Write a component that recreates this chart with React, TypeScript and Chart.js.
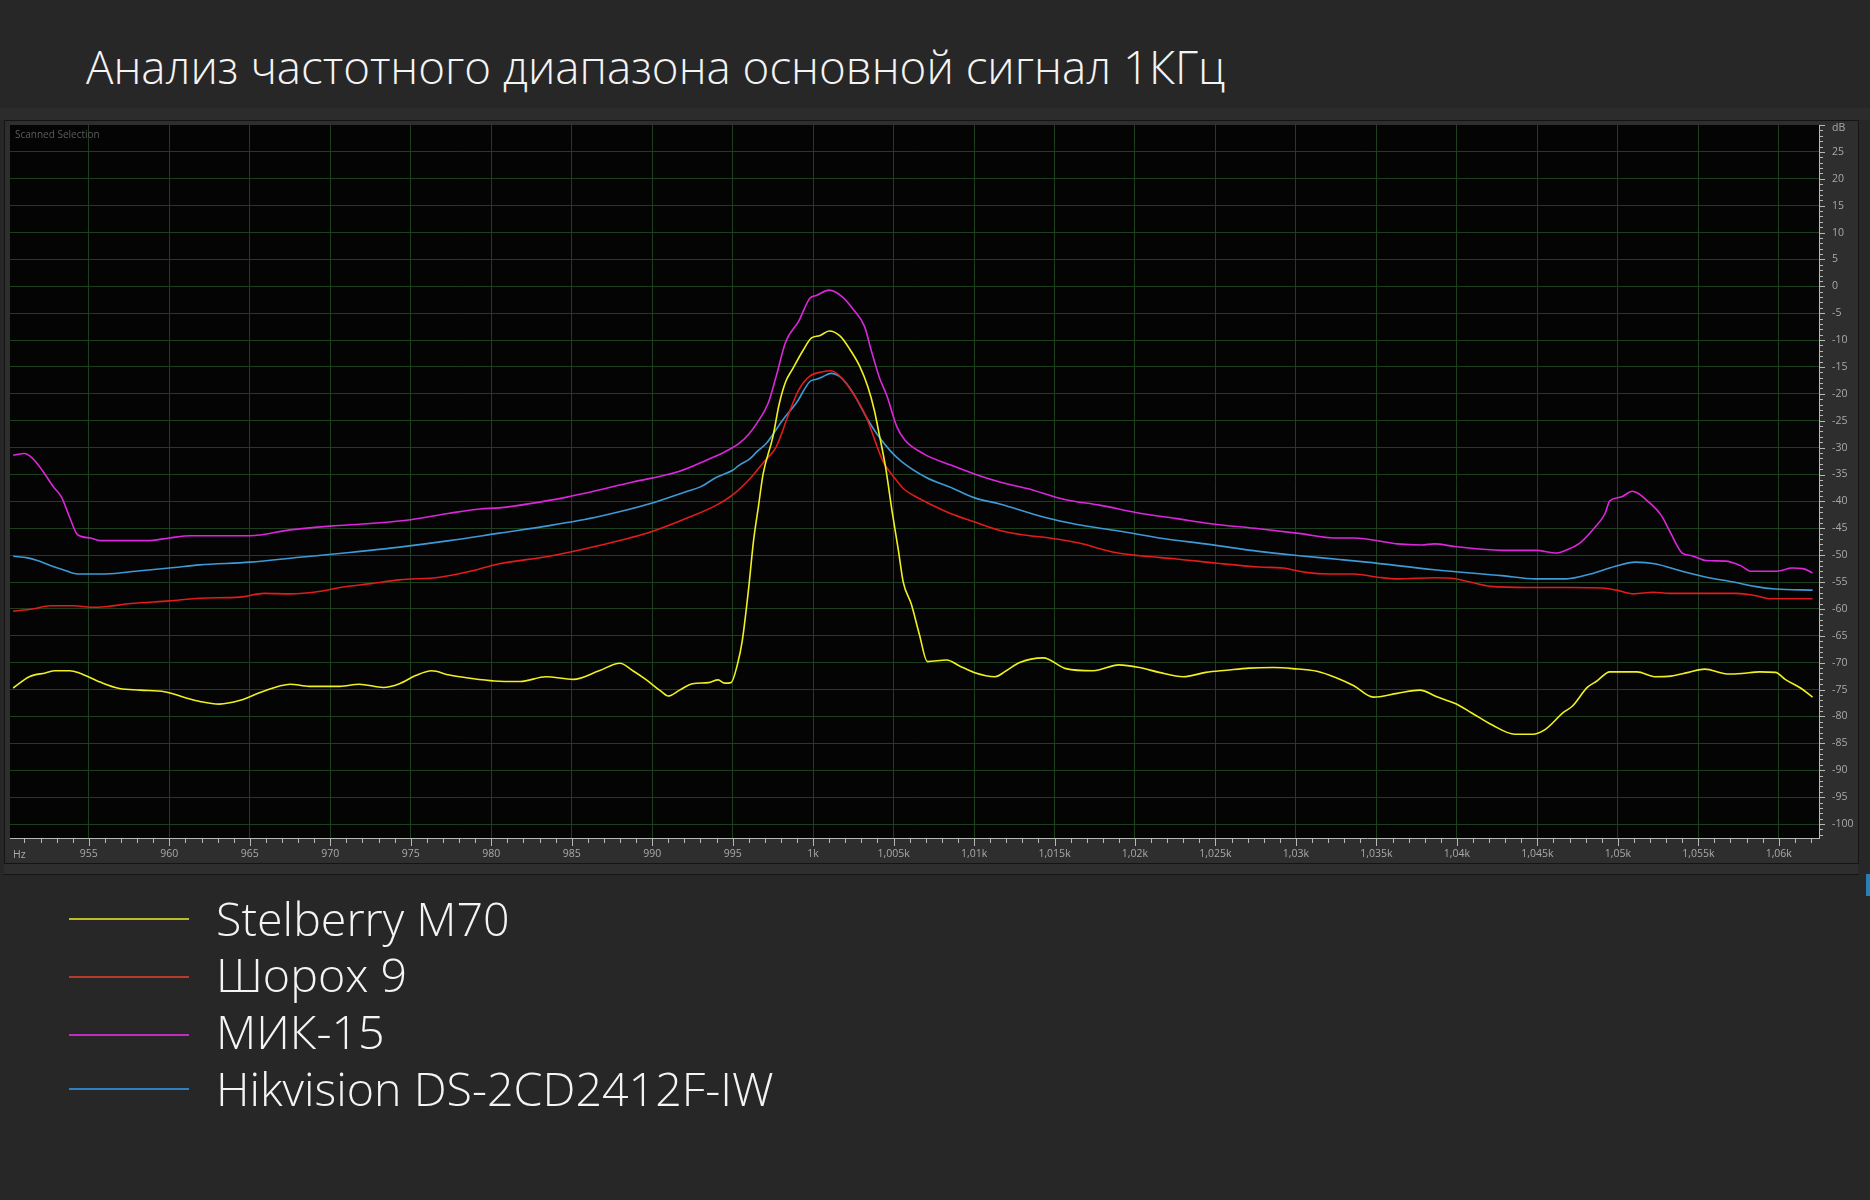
import React, { useEffect, useRef } from 'react';
import { Chart, registerables } from 'chart.js';

Chart.register(...registerables);

// ---------- data ----------
const titleText = 'Анализ частотного диапазона основной сигнал 1КГц';

const seriesNames = ['Stelberry M70', 'Шорох 9', 'МИК-15', 'Hikvision DS-2CD2412F-IW'];
const seriesColors = ['#f0f020', '#e01c1c', '#dc26dc', '#3e9ad6'];
const legendColors = ['#bcbc2a', '#b83a2a', '#c22cc2', '#2f80c4'];

const stelberryHz = [950.3, 951.3, 952.3, 952.9, 953.8, 954.4, 955.7, 956.9, 958.2, 959.7, 961.0, 961.9, 963.1, 964.4, 965.6, 966.9, 967.5, 968.7, 970.6, 971.8, 973.3, 974.3, 975.3, 976.3, 977.4, 978.7, 980.2, 981.8, 983.4, 985.1, 986.7, 988.0, 988.8, 989.6, 990.5, 991.0, 991.7, 992.5, 993.5, 994.1, 994.5, 994.9, 995.3, 995.6, 996.0, 996.3, 996.6, 996.9, 997.5, 997.9, 998.3, 998.7, 999.4, 999.9, 1000.4, 1001.0, 1001.7, 1002.3, 1002.9, 1003.4, 1003.8, 1004.1, 1004.5, 1004.9, 1005.3, 1005.6, 1006.1, 1006.6, 1007.1, 1008.3, 1009.1, 1010.0, 1011.3, 1012.0, 1012.8, 1014.3, 1015.7, 1017.4, 1019.0, 1020.3, 1021.5, 1023.0, 1024.4, 1025.7, 1027.1, 1028.6, 1029.8, 1031.3, 1032.5, 1033.6, 1034.8, 1036.3, 1037.7, 1038.8, 1039.9, 1040.9, 1042.2, 1043.6, 1044.7, 1045.5, 1046.6, 1047.2, 1048.1, 1048.7, 1049.5, 1051.2, 1052.3, 1053.3, 1054.4, 1055.4, 1056.8, 1057.7, 1058.8, 1059.8, 1060.4, 1061.4, 1062.1];
const stelberryDb = [-74.7, -72.6, -71.9, -71.5, -71.5, -71.9, -73.6, -74.8, -75.1, -75.4, -76.5, -77.2, -77.7, -77.0, -75.6, -74.3, -74.0, -74.4, -74.4, -74.0, -74.6, -73.9, -72.4, -71.5, -72.3, -72.9, -73.4, -73.5, -72.6, -73.1, -71.5, -70.1, -71.5, -73.1, -75.2, -76.2, -75.1, -73.9, -73.7, -73.2, -73.8, -73.7, -70.3, -65.9, -56.0, -47.3, -41.0, -34.8, -28.0, -21.8, -17.7, -15.5, -11.8, -9.6, -9.2, -8.3, -9.3, -11.8, -14.9, -18.7, -23.0, -27.4, -33.6, -41.7, -49.1, -55.0, -59.1, -64.7, -69.8, -69.5, -70.6, -71.8, -72.6, -71.5, -70.0, -69.1, -71.1, -71.5, -70.4, -70.9, -71.8, -72.6, -71.8, -71.4, -71.0, -70.9, -71.1, -71.6, -72.8, -74.3, -76.4, -75.7, -75.1, -76.4, -77.6, -79.3, -81.6, -83.3, -83.3, -82.4, -79.3, -78.0, -74.6, -73.4, -71.7, -71.7, -72.6, -72.5, -71.8, -71.2, -72.1, -72.0, -71.7, -71.8, -73.1, -74.8, -76.4];

const shorohHz = [950.3, 951.5, 952.6, 954.1, 955.1, 956.0, 957.6, 960.0, 961.9, 964.4, 965.9, 967.5, 969.4, 970.6, 972.5, 974.3, 976.8, 978.7, 980.5, 983.6, 986.7, 989.9, 992.1, 994.0, 995.0, 996.1, 996.9, 997.7, 998.5, 999.1, 999.8, 1000.6, 1001.1, 1001.8, 1002.6, 1003.3, 1004.0, 1004.4, 1005.0, 1005.6, 1006.3, 1007.0, 1008.5, 1010.0, 1011.6, 1012.8, 1014.9, 1016.6, 1018.6, 1020.3, 1022.6, 1025.1, 1027.7, 1029.2, 1030.6, 1032.1, 1033.6, 1035.1, 1036.3, 1038.6, 1039.9, 1040.8, 1042.1, 1044.4, 1047.0, 1049.1, 1049.9, 1051.0, 1052.2, 1053.2, 1055.3, 1057.4, 1058.5, 1059.5, 1062.1];
const shorohDb = [-60.4, -60.0, -59.4, -59.4, -59.7, -59.6, -59.0, -58.5, -58.0, -57.8, -57.1, -57.2, -56.7, -56.0, -55.3, -54.6, -54.1, -53.0, -51.6, -50.2, -48.2, -45.7, -43.2, -40.7, -38.8, -35.7, -32.8, -29.9, -23.6, -19.3, -16.7, -15.9, -15.7, -17.1, -20.5, -24.3, -30.0, -32.9, -35.4, -37.6, -39.0, -40.1, -42.2, -43.8, -45.4, -46.1, -46.9, -47.8, -49.4, -50.1, -50.7, -51.5, -52.2, -52.4, -53.2, -53.5, -53.5, -54.1, -54.4, -54.2, -54.4, -55.0, -55.8, -56.0, -56.0, -56.1, -56.5, -57.2, -56.9, -57.1, -57.1, -57.1, -57.5, -58.1, -58.1];

const mik15Hz = [950.3, 951.0, 951.5, 952.1, 952.8, 953.3, 953.8, 954.3, 955.1, 955.7, 958.6, 960.0, 961.3, 965.0, 967.5, 970.0, 972.5, 975.0, 977.4, 979.3, 980.5, 984.7, 988.8, 991.6, 993.4, 994.5, 995.4, 996.0, 996.5, 997.2, 997.7, 998.3, 999.1, 999.8, 1000.2, 1001.0, 1001.8, 1002.5, 1003.2, 1003.6, 1004.1, 1004.6, 1005.2, 1005.7, 1006.9, 1008.6, 1010.2, 1011.6, 1013.3, 1015.7, 1017.8, 1020.3, 1022.6, 1024.6, 1027.7, 1030.3, 1032.4, 1033.6, 1036.3, 1037.8, 1038.6, 1039.9, 1042.8, 1044.9, 1046.2, 1047.0, 1047.7, 1048.5, 1049.2, 1049.5, 1050.2, 1050.9, 1051.2, 1051.8, 1052.7, 1053.2, 1054.0, 1054.6, 1055.5, 1056.7, 1057.6, 1058.3, 1059.5, 1060.1, 1060.8, 1061.5, 1062.1];
const mik15Db = [-31.4, -31.1, -32.0, -34.2, -37.3, -39.2, -42.9, -46.2, -46.8, -47.3, -47.3, -46.8, -46.4, -46.4, -45.3, -44.6, -44.1, -43.4, -42.2, -41.4, -41.2, -39.2, -36.4, -34.5, -32.3, -30.8, -29.2, -27.5, -25.5, -21.8, -16.8, -10.3, -6.5, -2.2, -1.7, -0.7, -1.9, -4.3, -7.5, -11.8, -16.8, -20.5, -26.1, -28.6, -31.2, -33.3, -35.1, -36.4, -37.6, -39.7, -40.7, -42.2, -43.2, -44.1, -45.1, -46.0, -46.8, -46.8, -47.9, -48.1, -47.9, -48.4, -49.1, -49.1, -49.6, -48.8, -47.6, -45.1, -42.3, -39.9, -39.2, -38.1, -38.4, -39.8, -42.6, -45.4, -49.6, -50.1, -51.0, -51.1, -51.9, -53.0, -53.0, -52.9, -52.4, -52.5, -53.3];

const hikvisionHz = [950.3, 951.2, 951.8, 952.6, 953.4, 954.3, 956.0, 958.2, 960.0, 961.9, 965.0, 968.1, 971.2, 974.3, 977.4, 980.5, 983.6, 986.7, 989.9, 992.1, 993.0, 994.0, 995.0, 995.4, 996.1, 996.5, 997.1, 998.1, 999.0, 999.8, 1000.2, 1000.6, 1001.1, 1001.7, 1002.5, 1003.3, 1004.0, 1004.8, 1005.5, 1007.0, 1008.7, 1010.0, 1011.6, 1014.3, 1016.4, 1019.0, 1021.5, 1024.6, 1027.7, 1030.2, 1032.7, 1034.4, 1038.6, 1042.8, 1044.9, 1046.8, 1048.3, 1049.8, 1051.1, 1052.3, 1054.0, 1055.5, 1057.2, 1058.5, 1059.8, 1062.1];
const hikvisionDb = [-50.2, -50.5, -51.0, -51.9, -52.7, -53.5, -53.5, -52.9, -52.4, -51.8, -51.3, -50.4, -49.5, -48.5, -47.3, -45.9, -44.5, -42.8, -40.4, -38.2, -37.3, -35.5, -34.2, -33.3, -32.0, -30.8, -29.2, -24.9, -21.5, -17.7, -17.3, -16.8, -16.2, -16.9, -19.9, -24.3, -27.6, -30.6, -32.6, -35.5, -37.6, -39.3, -40.5, -42.9, -44.3, -45.5, -46.8, -48.0, -49.3, -50.1, -50.8, -51.3, -52.7, -53.8, -54.4, -54.4, -53.5, -52.1, -51.3, -51.6, -53.0, -54.1, -55.0, -55.8, -56.3, -56.5];

const hzTickValues = [955, 960, 965, 970, 975, 980, 985, 990, 995, 1000, 1005, 1010, 1015, 1020, 1025, 1030, 1035, 1040, 1045, 1050, 1055, 1060];
const hzTickLabels = ['955', '960', '965', '970', '975', '980', '985', '990', '995', '1k', '1,005k', '1,01k', '1,015k', '1,02k', '1,025k', '1,03k', '1,035k', '1,04k', '1,045k', '1,05k', '1,055k', '1,06k'];
const dbTickValues = [25, 20, 15, 10, 5, 0, -5, -10, -15, -20, -25, -30, -35, -40, -45, -50, -55, -60, -65, -70, -75, -80, -85, -90, -95, -100];

const X_MIN = 950.1;
const X_MAX = 1062.5;
const Y_MIN = -102.6;
const Y_MAX = 30;

// ---------- layout ----------
const CANVAS_TOP = 100;
const CANVAS_W = 1870;
const CANVAS_H = 790;
const UI_FONT = '"Open Sans", "Noto Sans", sans-serif';
const TICK_COLOR = '#a9a9a9';
const GRID_COLOR = '#1d3f1d';

const allHz = [stelberryHz, shorohHz, mik15Hz, hikvisionHz];
const allDb = [stelberryDb, shorohDb, mik15Db, hikvisionDb];

const decorPlugin = {
  id: 'decor',
  beforeDraw(chart: any) {
    const { ctx, width, height, chartArea: ca } = chart;
    const o = CANVAS_TOP;
    ctx.save();
    ctx.fillStyle = '#272727';
    ctx.fillRect(0, 0, width, height);
    ctx.fillStyle = '#2c2c2c';
    ctx.fillRect(0, 108 - o, width, 12);
    // panel
    ctx.fillStyle = '#2e2e2e';
    ctx.fillRect(4, 120 - o, 1855, 743);
    ctx.strokeStyle = '#141414';
    ctx.lineWidth = 1;
    ctx.strokeRect(4.5, 120.5 - o, 1854, 743);
    // strip under panel
    ctx.fillStyle = '#2e2e2e';
    ctx.fillRect(4, 864 - o, 1854, 10);
    ctx.fillStyle = '#141414';
    ctx.fillRect(3, 874 - o, 1856, 1);
    // plot background
    ctx.fillStyle = '#040404';
    ctx.fillRect(ca.left, ca.top, ca.right - ca.left, ca.bottom - ca.top);
    ctx.restore();
  },
  afterDraw(chart: any) {
    const { ctx, chartArea: ca } = chart;
    const xs = chart.scales.x;
    const ys = chart.scales.y;
    const o = CANVAS_TOP;
    ctx.save();
    ctx.strokeStyle = '#b8b8b8';
    ctx.lineWidth = 1;
    ctx.beginPath();
    for (let v = Math.ceil(X_MIN); v <= Math.floor(X_MAX); v++) {
      const px = Math.round(xs.getPixelForValue(v)) + 0.5;
      const len = v % 5 === 0 ? 8 : 5;
      ctx.moveTo(px, ca.bottom);
      ctx.lineTo(px, ca.bottom + len);
    }
    for (let v = Math.ceil(Y_MIN); v <= Math.floor(Y_MAX); v++) {
      const py = Math.round(ys.getPixelForValue(v)) + 0.5;
      const len = v % 5 === 0 ? 6 : 4;
      ctx.moveTo(ca.right, py);
      ctx.lineTo(ca.right + len, py);
    }
    ctx.stroke();
    ctx.fillStyle = TICK_COLOR;
    ctx.font = `10.5px ${UI_FONT}`;
    ctx.textBaseline = 'middle';
    ctx.textAlign = 'left';
    ctx.fillText('Hz', 13, 855 - o);
    ctx.fillText('dB', ca.right + 13, 128 - o);
    ctx.fillStyle = '#5c5c5c';
    ctx.font = `10px ${UI_FONT}`;
    ctx.fillText('Scanned Selection', 15, 135 - o);
    ctx.restore();
  },
};

function SpectrumChart() {
  const ref = useRef<HTMLCanvasElement | null>(null);
  useEffect(() => {
    if (!ref.current) return;
    const datasets = seriesNames.map((name, i) => ({
      label: name,
      data: allHz[i].map((hz, k) => ({ x: hz, y: allDb[i][k] })),
      borderColor: seriesColors[i],
      backgroundColor: seriesColors[i],
      borderWidth: 1.6,
      pointRadius: 0,
      tension: 0.3,
      cubicInterpolationMode: 'monotone' as const,
      fill: false,
    }));
    const chart = new Chart(ref.current, {
      type: 'line',
      data: { datasets },
      options: {
        animation: false,
        responsive: false,
        events: [],
        layout: { padding: { left: 10, top: 25, right: 11, bottom: 27 } },
        plugins: { legend: { display: false }, tooltip: { enabled: false }, title: { display: false } },
        scales: {
          x: {
            type: 'linear',
            position: 'bottom',
            min: X_MIN,
            max: X_MAX,
            afterBuildTicks: (s: any) => {
              s.ticks = hzTickValues.map((v) => ({ value: v }));
            },
            afterFit: (s: any) => {
              s.height = 25;
            },
            grid: { color: GRID_COLOR, lineWidth: 1, drawTicks: false },
            border: { display: true, color: '#b8b8b8', width: 1 },
            ticks: {
              autoSkip: false,
              maxRotation: 0,
              padding: 10,
              color: TICK_COLOR,
              font: { size: 10.5, family: UI_FONT },
              callback: (v: any) => {
                const idx = hzTickValues.indexOf(Number(v));
                return idx >= 0 ? hzTickLabels[idx] : '';
              },
            },
          },
          y: {
            type: 'linear',
            position: 'right',
            min: Y_MIN,
            max: Y_MAX,
            afterBuildTicks: (s: any) => {
              s.ticks = dbTickValues.map((v) => ({ value: v }));
            },
            afterFit: (s: any) => {
              s.width = 40;
            },
            grid: { color: GRID_COLOR, lineWidth: 1, drawTicks: false },
            border: { display: true, color: '#b8b8b8', width: 1 },
            ticks: {
              autoSkip: false,
              padding: 13,
              color: TICK_COLOR,
              font: { size: 10.5, family: UI_FONT },
              callback: (v: any) => String(v),
            },
          },
        },
      },
      plugins: [decorPlugin],
    });
    return () => chart.destroy();
  }, []);
  return (
    <canvas
      ref={ref}
      width={CANVAS_W}
      height={CANVAS_H}
      style={{ position: 'absolute', left: 0, top: CANVAS_TOP, width: CANVAS_W, height: CANVAS_H }}
    />
  );
}

const legendLineY = [919, 977, 1035, 1089];
const legendBaseY = [936, 992, 1049, 1106];
const TITLE_FONT = 45.7;
const LEGEND_FONT = 46.6;

export default function App() {
  return (
    <div
      style={{
        position: 'fixed',
        left: 0,
        top: 0,
        width: 1870,
        height: 1200,
        background: '#272727',
        overflow: 'hidden',
        fontFamily: UI_FONT,
      }}
    >
      <div
        style={{
          position: 'absolute',
          left: 86,
          top: 85 - Math.round(TITLE_FONT * 0.888),
          fontSize: TITLE_FONT,
          lineHeight: `${TITLE_FONT}px`,
          fontWeight: 300,
          color: '#f4f4f4',
          whiteSpace: 'nowrap',
        }}
      >
        {titleText}
      </div>
      <SpectrumChart />
      <div style={{ position: 'absolute', left: 1866, top: 874, width: 4, height: 22, background: '#2b7db5' }} />
      {seriesNames.map((name, i) => (
        <React.Fragment key={name}>
          <div
            style={{
              position: 'absolute',
              left: 69,
              top: legendLineY[i] - 1,
              width: 120,
              height: 2,
              background: legendColors[i],
            }}
          />
          <div
            style={{
              position: 'absolute',
              left: 216,
              top: legendBaseY[i] - Math.round(LEGEND_FONT * 0.888),
              fontSize: LEGEND_FONT,
              lineHeight: `${LEGEND_FONT}px`,
              fontWeight: 300,
              color: '#f4f4f4',
              whiteSpace: 'nowrap',
            }}
          >
            {name}
          </div>
        </React.Fragment>
      ))}
    </div>
  );
}
